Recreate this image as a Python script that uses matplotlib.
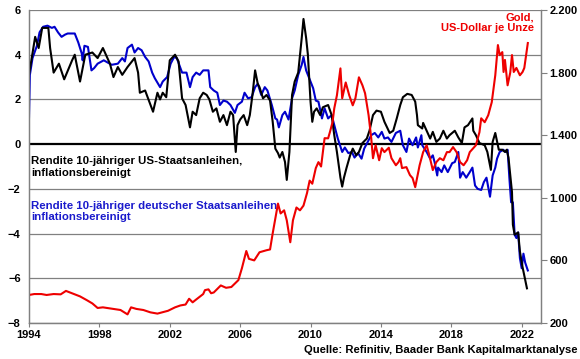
import numpy as np
import matplotlib.pyplot as plt
from matplotlib.ticker import FuncFormatter

plt.rcParams['font.family'] = ['Liberation Sans', 'DejaVu Sans']
plt.rcParams['font.weight'] = 'bold'

# Rendite 10-jaehriger US-Staatsanleihen, inflationsbereinigt (%)
us_years = [1994.0, 1994.35, 1994.55, 1994.75, 1995.1, 1995.2, 1995.4, 1995.7, 1996.0, 1996.45,
            1996.6, 1996.9, 1997.2, 1997.6, 1997.9, 1998.2, 1998.6, 1998.8, 1999.05, 1999.3,
            1999.6, 2000.0, 2000.2, 2000.3, 2000.6, 2001.05, 2001.3, 2001.45, 2001.6, 2001.8,
            2002.0, 2002.3, 2002.5, 2002.7, 2002.9, 2003.15, 2003.3, 2003.5, 2003.7, 2003.9,
            2004.1, 2004.25, 2004.45, 2004.65, 2004.85, 2005.05, 2005.25, 2005.45, 2005.6, 2005.75,
            2005.85, 2006.0, 2006.2, 2006.4, 2006.55, 2006.7, 2006.85, 2007.0, 2007.1, 2007.3,
            2007.5, 2007.7, 2007.85, 2008.0, 2008.15, 2008.25, 2008.4, 2008.55, 2008.65, 2008.8,
            2008.95, 2009.1, 2009.3, 2009.5, 2009.6, 2009.75, 2009.85, 2010.0, 2010.1, 2010.2,
            2010.35, 2010.55, 2010.7, 2011.0, 2011.2, 2011.35, 2011.5, 2011.7, 2011.8, 2011.9,
            2012.05, 2012.25, 2012.4, 2012.6, 2012.75, 2012.95, 2013.2, 2013.35, 2013.55, 2013.75,
            2014.0, 2014.2, 2014.5, 2014.7, 2014.9, 2015.1, 2015.25, 2015.5, 2015.75, 2015.95,
            2016.05, 2016.1, 2016.35, 2016.4, 2016.6, 2016.8, 2016.95, 2017.15, 2017.35, 2017.55,
            2017.75, 2017.9, 2018.2, 2018.4, 2018.6, 2018.75, 2018.95, 2019.2, 2019.25, 2019.4,
            2019.6, 2019.9, 2020.05, 2020.25, 2020.35, 2020.5, 2020.7, 2020.9, 2021.05, 2021.15,
            2021.25, 2021.45, 2021.5, 2021.6, 2021.8, 2021.9, 2022.05, 2022.3]
us_yield = [3.1, 4.8, 4.3, 5.2, 5.2, 4.3, 3.2, 3.6, 2.9, 3.75,
            4.0, 2.8, 4.0, 4.1, 3.85, 4.3, 3.6, 3.0, 3.45, 3.1,
            3.45, 3.85, 3.2, 2.3, 2.4, 1.45, 2.3, 2.0, 2.3, 2.1,
            3.75, 4.0, 3.7, 2.05, 1.75, 0.75, 1.45, 1.3, 2.05, 2.3,
            2.2, 2.0, 1.45, 1.6, 1.0, 1.3, 0.85, 1.45, 1.3, -0.35,
            0.85, 1.1, 1.3, 0.85, 1.3, 2.2, 3.3, 2.7, 2.55, 2.05,
            2.2, 1.95, 1.0, -0.2, -0.4, -0.6, -0.35, -0.8, -1.6, -0.35,
            2.2, 2.8, 3.2, 4.75, 5.6, 4.75, 4.0, 1.9, 1.0, 1.45,
            1.6, 1.3, 1.65, 1.75, 1.3, 0.4, -0.35, -1.5, -1.9, -1.5,
            -1.05, -0.5, -0.2, -0.5, -0.35, 0.05, 0.25, 0.6, 1.3, 1.5,
            1.45, 1.0, 0.5, 0.6, 1.15, 1.75, 2.1, 2.25, 2.2, 1.9,
            1.3, 0.85, 0.7, 0.95, 0.6, 0.25, 0.55, 0.1, 0.25, 0.6,
            0.25, 0.4, 0.6, 0.3, 0.05, 0.75, 0.85, 1.15, 0.6, 0.4,
            0.05, -0.05, -0.35, -1.15, 0.1, 0.5, -0.25, -0.25, -0.35, -0.25,
            -0.6, -2.15, -3.6, -4.05, -3.95, -4.8, -5.5, -6.45]

# Rendite 10-jaehriger deutscher Staatsanleihen, inflationsbereinigt (%)
de_years = [1994.0, 1994.05, 1994.2, 1994.45, 1994.6, 1994.8, 1995.05, 1995.3, 1995.45, 1995.65,
            1995.85, 1996.05, 1996.2, 1996.6, 1996.8, 1997.0, 1997.05, 1997.15, 1997.35, 1997.55,
            1997.7, 1997.9, 1998.25, 1998.7, 1999.05, 1999.3, 1999.45, 1999.6, 1999.85, 2000.0,
            2000.2, 2000.4, 2000.6, 2000.8, 2001.0, 2001.15, 2001.45, 2001.6, 2001.85, 2002.05,
            2002.25, 2002.4, 2002.7, 2002.95, 2003.15, 2003.3, 2003.5, 2003.7, 2003.9, 2004.2,
            2004.3, 2004.5, 2004.7, 2004.85, 2005.05, 2005.25, 2005.45, 2005.7, 2005.85, 2006.1,
            2006.25, 2006.45, 2006.65, 2006.85, 2007.0, 2007.2, 2007.4, 2007.55, 2007.8, 2008.0,
            2008.1, 2008.2, 2008.4, 2008.55, 2008.75, 2008.95, 2009.1, 2009.3, 2009.5, 2009.6,
            2009.75, 2010.0, 2010.15, 2010.3, 2010.45, 2010.65, 2010.8, 2011.0, 2011.2, 2011.35,
            2011.55, 2011.8, 2011.95, 2012.15, 2012.35, 2012.5, 2012.7, 2012.9, 2013.05, 2013.25,
            2013.45, 2013.65, 2013.85, 2014.05, 2014.2, 2014.4, 2014.6, 2014.85, 2015.1, 2015.25,
            2015.45, 2015.6, 2015.8, 2016.0, 2016.1, 2016.3, 2016.35, 2016.6, 2016.8, 2016.95,
            2017.05, 2017.2, 2017.25, 2017.45, 2017.6, 2017.8, 2018.05, 2018.2, 2018.4, 2018.5,
            2018.65, 2018.85, 2019.05, 2019.2, 2019.35, 2019.5, 2019.7, 2019.85, 2020.0, 2020.2,
            2020.35, 2020.5, 2020.6, 2020.75, 2020.95, 2021.1, 2021.2, 2021.3, 2021.4, 2021.5,
            2021.6, 2021.7, 2021.8, 2021.9, 2022.0, 2022.1, 2022.2, 2022.35]
de_yield = [1.2, 3.1, 3.85, 4.4, 5.0, 5.25, 5.3, 5.2, 5.25, 5.0,
            4.8, 4.9, 4.95, 4.95, 4.55, 4.05, 3.75, 4.4, 4.35, 3.3,
            3.4, 3.6, 3.75, 3.55, 3.6, 3.85, 3.7, 4.3, 4.45, 4.1,
            4.3, 4.2, 3.9, 3.7, 3.2, 2.95, 2.55, 2.8, 3.0, 3.6,
            3.9, 3.85, 3.2, 3.2, 2.55, 3.0, 3.2, 3.1, 3.3, 3.3,
            2.55, 2.4, 2.3, 1.75, 1.95, 1.9, 1.75, 1.4, 1.75, 1.9,
            2.3, 2.05, 2.1, 2.55, 2.7, 2.2, 2.55, 2.4, 1.75, 1.15,
            1.1, 0.75, 1.3, 1.45, 1.1, 2.05, 2.4, 3.1, 3.55, 3.9,
            3.3, 2.8, 2.5, 1.95, 1.9, 1.15, 1.6, 1.15, 1.3, 0.85,
            0.25, -0.35, -0.15, -0.4, -0.35, -0.6, -0.4, -0.65, -0.2, 0.1,
            0.4, 0.5, 0.3, 0.55, 0.25, 0.3, 0.1, 0.5, 0.6, -0.05,
            -0.35, 0.25, -0.05, 0.3, -0.15, 0.4, -0.05, -0.35, -0.65, -0.5,
            -0.8, -1.4, -1.05, -1.25, -0.95, -1.25, -0.85, -0.8, -0.35, -1.5,
            -1.25, -1.5, -1.25, -1.05, -1.85, -2.0, -2.05, -1.7, -1.5, -2.35,
            -1.4, -1.05, -0.65, -0.35, -0.25, -0.35, -0.25, -1.5, -2.6, -2.6,
            -4.05, -4.2, -3.95, -5.1, -5.55, -4.9, -5.3, -5.65]

# Gold, US-Dollar je Unze
gold_years = [1994.0, 1994.3, 1994.7, 1995.0, 1995.4, 1995.8, 1996.1, 1996.4, 1996.9, 1997.3,
              1997.6, 1997.9, 1998.2, 1998.5, 1998.8, 1999.2, 1999.5, 1999.6, 1999.8, 2000.1,
              2000.5, 2000.9, 2001.3, 2001.7, 2001.9, 2002.3, 2002.6, 2002.9, 2003.1, 2003.3,
              2003.5, 2003.9, 2004.0, 2004.2, 2004.35, 2004.5, 2004.9, 2005.2, 2005.5, 2005.9,
              2006.1, 2006.35, 2006.5, 2006.8, 2007.1, 2007.5, 2007.7, 2007.85, 2008.05, 2008.15,
              2008.3, 2008.5, 2008.65, 2008.85, 2009.0, 2009.2, 2009.4, 2009.6, 2009.8, 2009.95,
              2010.1, 2010.3, 2010.45, 2010.6, 2010.8, 2011.0, 2011.1, 2011.25, 2011.35, 2011.5,
              2011.7, 2011.8, 2012.0, 2012.2, 2012.4, 2012.55, 2012.75, 2012.95, 2013.1, 2013.3,
              2013.45, 2013.55, 2013.7, 2013.9, 2014.05, 2014.2, 2014.45, 2014.6, 2014.85, 2015.0,
              2015.1, 2015.2, 2015.45, 2015.65, 2015.8, 2015.95, 2016.2, 2016.4, 2016.6, 2016.75,
              2016.95, 2017.15, 2017.35, 2017.55, 2017.75, 2017.9, 2018.1, 2018.3, 2018.5, 2018.7,
              2018.9, 2019.05, 2019.25, 2019.4, 2019.6, 2019.7, 2019.9, 2020.1, 2020.3, 2020.5,
              2020.65, 2020.75, 2020.9, 2020.97, 2021.05, 2021.2, 2021.35, 2021.45, 2021.55, 2021.7,
              2021.9, 2022.05, 2022.15, 2022.25, 2022.35]
gold_price = [379, 385, 385, 379, 385, 383, 405, 392, 370, 345,
              325, 296, 300, 295, 290, 283, 262, 255, 300, 290,
              283, 268, 260, 272, 278, 300, 312, 318, 355, 332,
              350, 385, 410, 415, 390, 395, 440, 425, 430, 474,
              550, 660, 610, 600, 652, 665, 670, 773, 900, 963,
              900, 920, 856, 716, 856, 938, 920, 950, 1030, 1110,
              1090, 1190, 1228, 1200, 1381, 1380, 1419, 1483, 1572, 1655,
              1827, 1636, 1737, 1655, 1591, 1636, 1770, 1719, 1668, 1528,
              1381, 1253, 1336, 1240, 1317, 1292, 1320, 1253, 1208, 1228,
              1253, 1190, 1196, 1145, 1126, 1068, 1208, 1292, 1336, 1272,
              1177, 1228, 1253, 1240, 1292, 1292, 1324, 1292, 1228, 1208,
              1240, 1292, 1317, 1336, 1419, 1508, 1483, 1528, 1611, 1783,
              1976, 1912, 1931, 1804, 1881, 1719, 1800, 1912, 1804, 1830,
              1783, 1804, 1830, 1910, 1989]

left_ticks = [-8, -6, -4, -2, 0, 2, 4, 6]
right_ticks = [200, 600, 1000, 1400, 1800, 2200]
year_ticks = [1994, 1998, 2002, 2006, 2010, 2014, 2018, 2022]

fig = plt.figure(figsize=(5.8, 3.59), dpi=100)
ax = fig.add_axes([0.05, 0.1003, 0.8828, 0.8718])
ax2 = ax.twinx()

for v in left_ticks:
    if v == 0:
        ax.axhline(v, color='black', lw=1.6, zorder=1)
    else:
        ax.axhline(v, color='#808080', lw=0.9, zorder=1)

ax.plot(de_years, de_yield, color='#0000CC', lw=1.5, zorder=3)
ax.plot(us_years, us_yield, color='black', lw=1.5, zorder=4)
ax2.plot(gold_years, gold_price, color='#EE0000', lw=1.5)

ax.set_xlim(1994, 2023.1)
ax.set_ylim(-8, 6)
ax2.set_ylim(200, 2200)
ax.set_yticks(left_ticks)
ax2.set_yticks(right_ticks)
ax.set_xticks(year_ticks)
ax2.yaxis.set_major_formatter(FuncFormatter(lambda v, p: f"{int(v):,}".replace(',', '.')))

for a in (ax, ax2):
    a.spines['top'].set_visible(False)
    for s in ('left', 'right', 'bottom'):
        a.spines[s].set_color('#808080')
        a.spines[s].set_linewidth(0.9)
ax.tick_params(axis='y', length=0, labelsize=8, pad=6)
ax.tick_params(axis='x', length=3, color='#808080', labelsize=8, pad=2)
ax2.tick_params(axis='y', length=4, color='#808080', labelsize=8, pad=2)

ax.text(1994.1, -0.55, "Rendite 10-jähriger US-Staatsanleihen,\ninflationsbereinigt",
        color='black', fontsize=8.2, fontweight='bold', va='top', ha='left', linespacing=1.15)
ax.text(1994.1, -2.55, "Rendite 10-jähriger deutscher Staatsanleihen\ninflationsbereinigt",
        color='#1a1acc', fontsize=8.2, fontweight='bold', va='top', ha='left', linespacing=1.1)
ax.text(2022.7, 5.9, "Gold,\nUS-Dollar je Unze", color='#EE0000', fontsize=8.0,
        fontweight='bold', va='top', ha='right', linespacing=1.1)
fig.text(0.995, 0.01, "Quelle: Refinitiv, Baader Bank Kapitalmarktanalyse", fontsize=8.1,
         fontweight='bold', ha='right', va='bottom')

fig.savefig('out.png', dpi=100)
